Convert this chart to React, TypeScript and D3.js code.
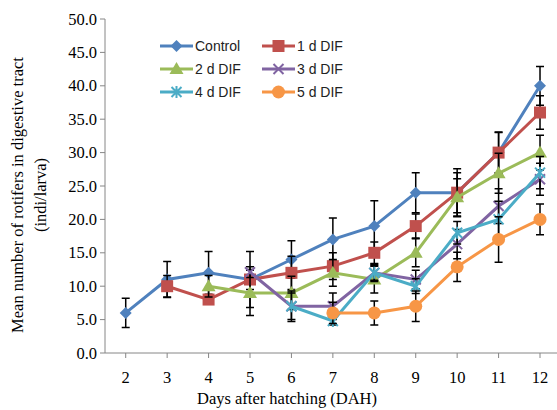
import React, { useEffect, useRef } from 'react';
import * as d3 from 'd3';

const days = ['2', '3', '4', '5', '6', '7', '8', '9', '10', '11', '12'];
const yTicks = [0, 5, 10, 15, 20, 25, 30, 35, 40, 45, 50];

const seriesNames = ['Control', '1 d DIF', '2 d DIF', '3 d DIF', '4 d DIF', '5 d DIF'];
const seriesColors = ['#4F81BD', '#C0504D', '#9BBB59', '#8064A2', '#4BACC6', '#F79646'];
const seriesMarkers = ['diamond', 'square', 'triangle', 'cross', 'star', 'circle'];

const control = [6, 11, 12, 11, 14, 17, 19, 24, 24, 30, 40];
const d1 = [null, 10, 8, 11, 12, 13, 15, 19, 24, 30, 36];
const d2 = [null, null, 10, 9, 9, 12, 11, 15, 23.3, 26.9, 30];
const d3v = [null, null, null, 12.1, 7, 7, 12, 11, 16.3, 22, 26];
const d4 = [null, null, null, null, 7, 4.8, 12, 10, 18, 20, 27];
const d5 = [null, null, null, null, null, 6, 6, 7, 12.9, 17, 20];

const controlErr = [2.2, 2.7, 3.2, 4.2, 2.8, 3.2, 3.8, 3.0, 3.6, 3.1, 2.9];
const d1Err = [null, 1.6, 0.6, 1.5, 2.5, 2.0, 1.6, 1.8, 3.0, 3.0, 2.5];
const d2Err = [null, null, 1.6, 3.4, 2.5, 2.0, 2.0, 2.1, 2.8, 3.0, 2.6];
const d3Err = [null, null, null, 0.8, 2.0, 2.0, 1.3, 1.4, 2.2, 2.6, 2.4];
const d4Err = [null, null, null, null, 2.3, 0.6, 1.1, 1.1, 1.7, 2.7, 2.4];
const d5Err = [null, null, null, null, null, 1.6, 1.8, 2.3, 2.2, 3.4, 2.3];

const seriesValues = [control, d1, d2, d3v, d4, d5];
const seriesErrors = [controlErr, d1Err, d2Err, d3Err, d4Err, d5Err];

const W = 557;
const H = 410;

function drawMarker(g, type, x, y, color) {
  if (type === 'diamond') {
    g.append('path')
      .attr('d', `M${x},${y - 6}L${x + 6},${y}L${x},${y + 6}L${x - 6},${y}Z`)
      .attr('fill', color);
  } else if (type === 'square') {
    g.append('rect')
      .attr('x', x - 6).attr('y', y - 6).attr('width', 12).attr('height', 12)
      .attr('fill', color);
  } else if (type === 'triangle') {
    g.append('path')
      .attr('d', `M${x},${y - 7}L${x + 7},${y + 5}L${x - 7},${y + 5}Z`)
      .attr('fill', color);
  } else if (type === 'cross') {
    g.append('path')
      .attr('d', `M${x - 5},${y - 5}L${x + 5},${y + 5}M${x - 5},${y + 5}L${x + 5},${y - 5}`)
      .attr('stroke', color).attr('stroke-width', 2);
  } else if (type === 'star') {
    g.append('path')
      .attr('d', `M${x - 5},${y - 5}L${x + 5},${y + 5}M${x - 5},${y + 5}L${x + 5},${y - 5}M${x},${y - 6}L${x},${y + 6}`)
      .attr('stroke', color).attr('stroke-width', 2);
  } else {
    g.append('circle').attr('cx', x).attr('cy', y).attr('r', 6.5).attr('fill', color);
  }
}

const App = () => {
  const svgRef = useRef(null);

  useEffect(() => {
    const svg = d3.select(svgRef.current);
    svg.selectAll('*').remove();

    const x = d3.scaleBand().domain(days).range([105, 105 + 11 * 41.43]);
    const y = d3.scaleLinear().domain([0, 50]).range([353, 19]);
    const cx = d => x(d) + x.bandwidth() / 2;

    // y axis
    svg.append('line')
      .attr('x1', 105).attr('x2', 105).attr('y1', 19).attr('y2', 353)
      .attr('stroke', '#868686').attr('stroke-width', 1);
    yTicks.forEach(t => {
      svg.append('line')
        .attr('x1', 100).attr('x2', 105).attr('y1', y(t)).attr('y2', y(t))
        .attr('stroke', '#868686');
      svg.append('text')
        .attr('x', 97).attr('y', y(t) + 5.5)
        .attr('text-anchor', 'end')
        .attr('font-family', 'Liberation Serif')
        .attr('font-size', 16.5)
        .text(t.toFixed(1));
    });

    // x axis
    svg.append('line')
      .attr('x1', 105).attr('x2', W).attr('y1', 353).attr('y2', 353)
      .attr('stroke', '#868686');
    days.forEach(d => {
      svg.append('line')
        .attr('x1', cx(d)).attr('x2', cx(d)).attr('y1', 353).attr('y2', 358)
        .attr('stroke', '#868686');
      svg.append('text')
        .attr('x', cx(d)).attr('y', 383)
        .attr('text-anchor', 'middle')
        .attr('font-family', 'Liberation Serif')
        .attr('font-size', 16.5)
        .text(d);
    });

    svg.append('text')
      .attr('x', 287).attr('y', 404)
      .attr('text-anchor', 'middle')
      .attr('font-family', 'Liberation Serif')
      .attr('font-size', 16.5)
      .text('Days after hatching (DAH)');

    svg.append('text')
      .attr('transform', 'rotate(-90)')
      .attr('x', -195).attr('y', 23)
      .attr('text-anchor', 'middle')
      .attr('font-family', 'Liberation Serif')
      .attr('font-size', 16.5)
      .text('Mean number of rotifers in digestive tract');
    svg.append('text')
      .attr('transform', 'rotate(-90)')
      .attr('x', -195).attr('y', 46)
      .attr('text-anchor', 'middle')
      .attr('font-family', 'Liberation Serif')
      .attr('font-size', 16.5)
      .text('(indi/larva)');

    const line = d3.line()
      .defined(d => d[1] != null)
      .x(d => cx(d[0]))
      .y(d => y(d[1]));

    seriesValues.forEach((vals, i) => {
      const g = svg.append('g');
      const pts = days.map((d, j) => [d, vals[j]]);
      g.append('path')
        .attr('d', line(pts))
        .attr('fill', 'none')
        .attr('stroke', seriesColors[i])
        .attr('stroke-width', 3);
      pts.forEach((p, j) => {
        const e = seriesErrors[i][j];
        if (p[1] == null || e == null) return;
        const px = cx(p[0]);
        g.append('path')
          .attr('d', `M${px},${y(p[1] - e)}L${px},${y(p[1] + e)}M${px - 4},${y(p[1] - e)}L${px + 4},${y(p[1] - e)}M${px - 4},${y(p[1] + e)}L${px + 4},${y(p[1] + e)}`)
          .attr('stroke', '#000').attr('stroke-width', 1.5).attr('fill', 'none');
      });
      pts.forEach(p => {
        if (p[1] == null) return;
        drawMarker(g, seriesMarkers[i], cx(p[0]), y(p[1]), seriesColors[i]);
      });
    });

    // legend
    seriesNames.forEach((name, i) => {
      const col = i % 2;
      const row = Math.floor(i / 2);
      const lx = col === 0 ? 160 : 262;
      const ly = 46 + row * 23;
      const g = svg.append('g');
      g.append('line')
        .attr('x1', lx).attr('x2', lx + 33).attr('y1', ly).attr('y2', ly)
        .attr('stroke', seriesColors[i]).attr('stroke-width', 3);
      drawMarker(g, seriesMarkers[i], lx + 16.5, ly, seriesColors[i]);
      g.append('text')
        .attr('x', lx + 35).attr('y', ly + 5)
        .attr('font-family', 'Liberation Sans')
        .attr('font-size', 14)
        .attr('fill', '#222')
        .text(name);
    });
  }, []);

  return (
    <svg ref={svgRef} width={W} height={H}
      style={{ position: 'absolute', left: 0, top: 0, background: '#fff' }}></svg>
  );
};

export default App;
